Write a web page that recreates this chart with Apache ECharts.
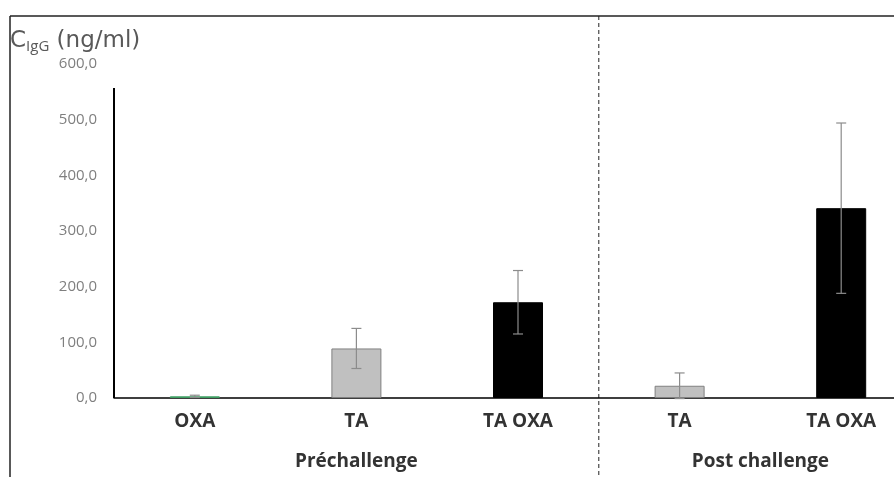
<!DOCTYPE html>
<html>
<head>
<meta charset="utf-8">
<script src="https://cdn.jsdelivr.net/npm/echarts@6/dist/echarts.min.js"></script>
<style>
  html, body { margin: 0; padding: 0; background: #fff; overflow: hidden; }
  #main { width: 922px; height: 477px; }
</style>
</head>
<body>
<div id="main"></div>
<script>
var categories = ['OXA', 'TA', 'TA OXA', 'TA', 'TA OXA'];
var means = [3, 89, 172, 22, 341];
var errors = [2, 36, 57, 23, 153];
var barColors = ['#3f9e63', '#c0c0c0', '#000000', '#c0c0c0', '#000000'];
var borderColors = ['#3f9e63', '#808080', '#000000', '#808080', '#000000'];
var groups = ['Préchallenge', 'Post challenge'];
var groupCenters = [1, 3.5];

// the plot runs past the right edge of the picture, so the chart is wider than the window
var chart = echarts.init(document.getElementById('main'));
var font = '"Open Sans", sans-serif';
var yLineTop = 557; // the drawn y axis line stops short of the 600 label

var barData = means.map(function (v, i) {
  return { value: v, itemStyle: { color: barColors[i], borderColor: borderColors[i], borderWidth: 1 } };
});
var errData = means.map(function (v, i) {
  return [i, v - errors[i], v + errors[i]];
});

var option = {
  animation: false,
  grid: { left: 114, right: 0, top: 64, bottom: 79 },
  xAxis: {
    type: 'category',
    data: categories,
    axisLine: { lineStyle: { color: '#000', width: 1.5 } },
    axisTick: { show: false },
    axisLabel: { color: '#333', fontSize: 19, fontWeight: 'bold', fontFamily: font, margin: 14 }
  },
  yAxis: {
    type: 'value',
    min: 0,
    max: 600,
    interval: 100,
    axisLine: { show: false },
    axisTick: { show: false },
    splitLine: { show: false },
    axisLabel: {
      color: '#7f7f7f', fontSize: 15, fontFamily: font, margin: 17,
      formatter: function (v) { return v.toFixed(1).replace('.', ','); }
    }
  },
  series: [
    {
      type: 'bar',
      data: barData,
      barWidth: 50
    },
    {
      type: 'custom',
      data: errData,
      encode: { x: 0, y: [1, 2] },
      z: 5,
      renderItem: function (params, api) {
        var x = api.value(0);
        var lo = api.coord([x, api.value(1)]);
        var hi = api.coord([x, api.value(2)]);
        var w = 5;
        var st = { stroke: '#8c8c8c', lineWidth: 1.2 };
        return {
          type: 'group',
          children: [
            { type: 'line', shape: { x1: hi[0], y1: hi[1], x2: lo[0], y2: lo[1] }, style: st },
            { type: 'line', shape: { x1: hi[0] - w, y1: hi[1], x2: hi[0] + w, y2: hi[1] }, style: st },
            { type: 'line', shape: { x1: lo[0] - w, y1: lo[1], x2: lo[0] + w, y2: lo[1] }, style: st }
          ]
        };
      }
    }
  ]
};
chart.setOption(option);

// decorations: frame, separator, y axis line, group labels, axis title
var sepX = (chart.convertToPixel({ xAxisIndex: 0 }, 2) + chart.convertToPixel({ xAxisIndex: 0 }, 3)) / 2;
var y0 = chart.convertToPixel({ yAxisIndex: 0 }, 0);
var yTop = chart.convertToPixel({ yAxisIndex: 0 }, yLineTop);
var titleFont = '"DejaVu Sans", sans-serif';
var graphics = [
  { type: 'line', shape: { x1: 10, y1: 16, x2: 10, y2: 477 }, style: { stroke: '#222', lineWidth: 1.5 } },
  { type: 'line', shape: { x1: 10, y1: 16, x2: 922, y2: 16 }, style: { stroke: '#222', lineWidth: 1.5 } },
  { type: 'line', shape: { x1: sepX, y1: 16, x2: sepX, y2: 477 }, style: { stroke: '#222', lineWidth: 1, lineDash: [4, 3] } },
  { type: 'line', z: 10, shape: { x1: 114, y1: y0, x2: 114, y2: yTop }, style: { stroke: '#000', lineWidth: 2 } },
  {
    type: 'text', left: 10, top: 30,
    style: {
      text: '{c|C}{s|IgG}{u| (ng/ml)}',
      rich: {
        c: { fontSize: 23, fill: '#595959', fontFamily: titleFont },
        s: { fontSize: 15, fill: '#595959', fontFamily: font, verticalAlign: 'bottom', padding: [10, 0, 0, 0] },
        u: { fontSize: 23, fill: '#595959', fontFamily: titleFont }
      }
    }
  }
];
groups.forEach(function (g, i) {
  var cx;
  if (groupCenters[i] % 1 === 0) {
    cx = chart.convertToPixel({ xAxisIndex: 0 }, groupCenters[i]);
  } else {
    cx = (chart.convertToPixel({ xAxisIndex: 0 }, Math.floor(groupCenters[i])) +
          chart.convertToPixel({ xAxisIndex: 0 }, Math.ceil(groupCenters[i]))) / 2;
  }
  graphics.push({
    type: 'text', x: cx, y: 462,
    style: { text: g, fill: '#333', fontSize: 19, fontWeight: 'bold', fontFamily: font, textAlign: 'center', textVerticalAlign: 'middle' }
  });
});
chart.setOption({ graphic: graphics });
</script>
</body>
</html>
